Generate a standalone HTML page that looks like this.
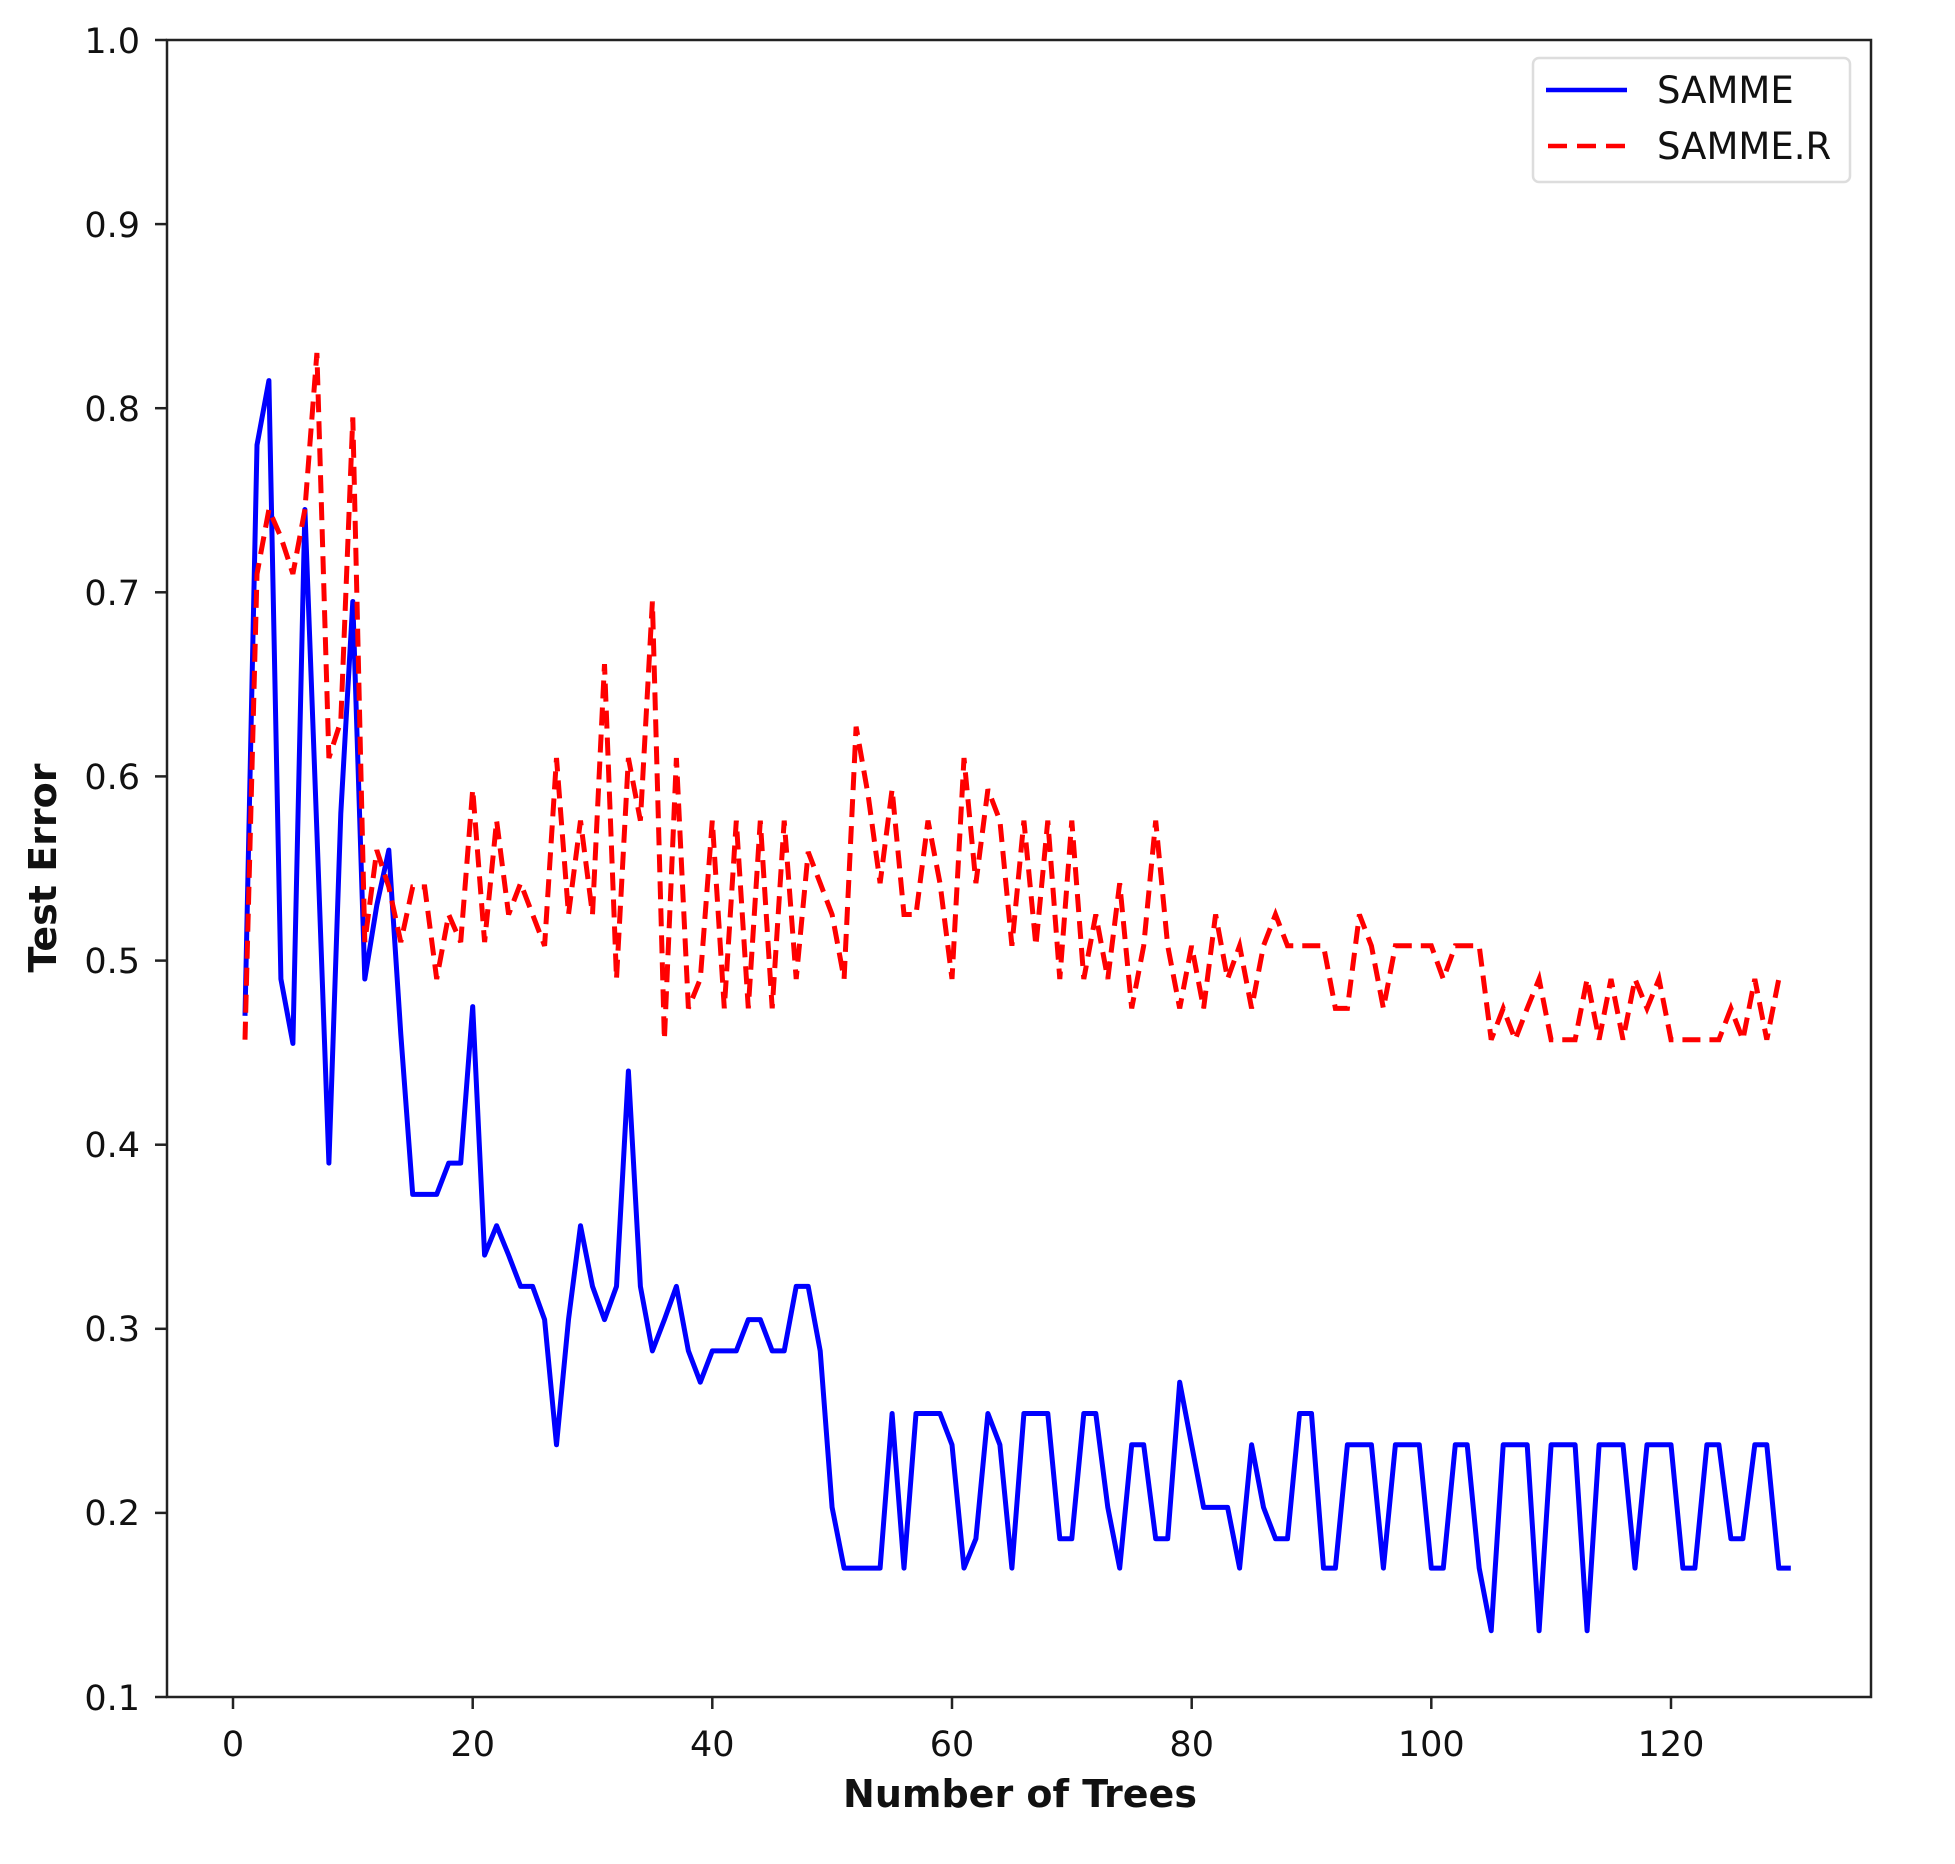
<!DOCTYPE html>
<html><head><meta charset="utf-8"><style>
html,body{margin:0;padding:0;background:#fff;}
svg{display:block;}
text{font-family:"DejaVu Sans","Liberation Sans",sans-serif;fill:#111;}
</style></head><body>
<svg width="1955" height="1864" xmlns="http://www.w3.org/2000/svg">
<rect x="0" y="0" width="1955" height="1864" fill="#fff"/>
<g id="series"></g>
<rect x="167" y="40" width="1704" height="1657" fill="none" stroke="#222" stroke-width="2.5"/>
<g stroke="#222" stroke-width="2.5">
<line x1="167" y1="40" x2="155" y2="40"/><line x1="167" y1="224.1" x2="155" y2="224.1"/><line x1="167" y1="408.2" x2="155" y2="408.2"/><line x1="167" y1="592.3" x2="155" y2="592.3"/><line x1="167" y1="776.4" x2="155" y2="776.4"/><line x1="167" y1="960.6" x2="155" y2="960.6"/><line x1="167" y1="1144.7" x2="155" y2="1144.7"/><line x1="167" y1="1328.8" x2="155" y2="1328.8"/><line x1="167" y1="1512.9" x2="155" y2="1512.9"/><line x1="167" y1="1697" x2="155" y2="1697"/>
<line x1="233" y1="1697" x2="233" y2="1709"/><line x1="472.7" y1="1697" x2="472.7" y2="1709"/><line x1="712.3" y1="1697" x2="712.3" y2="1709"/><line x1="952" y1="1697" x2="952" y2="1709"/><line x1="1191.7" y1="1697" x2="1191.7" y2="1709"/><line x1="1431.3" y1="1697" x2="1431.3" y2="1709"/><line x1="1671" y1="1697" x2="1671" y2="1709"/>
</g>
<g font-size="35" text-anchor="end">
<text x="140" y="53">1.0</text><text x="140" y="237">0.9</text><text x="140" y="421">0.8</text><text x="140" y="605">0.7</text><text x="140" y="789">0.6</text><text x="140" y="973">0.5</text><text x="140" y="1157">0.4</text><text x="140" y="1341">0.3</text><text x="140" y="1525">0.2</text><text x="140" y="1710">0.1</text>
</g>
<g font-size="35" text-anchor="middle">
<text x="233" y="1756">0</text><text x="472.7" y="1756">20</text><text x="712.3" y="1756">40</text><text x="952" y="1756">60</text><text x="1191.7" y="1756">80</text><text x="1431.3" y="1756">100</text><text x="1671" y="1756">120</text>
</g>
<text x="1020" y="1807" font-size="38" font-weight="bold" text-anchor="middle">Number of Trees</text>
<text transform="translate(56,868) rotate(-90)" font-size="38" font-weight="bold" text-anchor="middle">Test Error</text>
<rect x="1533" y="58" width="317" height="124" rx="6" fill="#fff" stroke="#ddd" stroke-width="2.5"/>
<line x1="1546" y1="90" x2="1627" y2="90" stroke="#0000ff" stroke-width="4.5"/>
<line x1="1548" y1="146" x2="1625" y2="146" stroke="#ff0000" stroke-width="4.5" stroke-dasharray="19,10"/>
<text x="1657" y="103" font-size="37">SAMME</text>
<text x="1657" y="159" font-size="37">SAMME.R</text>
</svg>
<script>
var b=[0.47,0.78,0.815,0.49,0.455,0.745,0.57,0.39,0.58,0.695,0.49,0.53,0.56,0.46,0.373,0.373,0.373,0.39,0.39,0.475,0.34,0.356,0.34,0.323,0.323,0.305,0.237,0.305,0.356,0.323,0.305,0.323,0.44,0.323,0.288,0.305,0.323,0.288,0.271,0.288,0.288,0.288,0.305,0.305,0.288,0.288,0.323,0.323,0.288,0.203,0.17,0.17,0.17,0.17,0.254,0.17,0.254,0.254,0.254,0.237,0.17,0.186,0.254,0.237,0.17,0.254,0.254,0.254,0.186,0.186,0.254,0.254,0.203,0.17,0.237,0.237,0.186,0.186,0.271,0.237,0.203,0.203,0.203,0.17,0.237,0.203,0.186,0.186,0.254,0.254,0.17,0.17,0.237,0.237,0.237,0.17,0.237,0.237,0.237,0.17,0.17,0.237,0.237,0.17,0.136,0.237,0.237,0.237,0.136,0.237,0.237,0.237,0.136,0.237,0.237,0.237,0.17,0.237,0.237,0.237,0.17,0.17,0.237,0.237,0.186,0.186,0.237,0.237,0.17,0.17];
var r=[0.457,0.71,0.745,0.73,0.71,0.745,0.83,0.61,0.63,0.795,0.51,0.56,0.54,0.51,0.54,0.54,0.49,0.525,0.51,0.593,0.51,0.576,0.525,0.542,0.525,0.508,0.61,0.525,0.576,0.525,0.661,0.49,0.61,0.576,0.695,0.457,0.61,0.474,0.49,0.576,0.474,0.576,0.474,0.576,0.474,0.576,0.49,0.559,0.542,0.525,0.49,0.627,0.59,0.542,0.593,0.525,0.525,0.576,0.542,0.49,0.61,0.542,0.593,0.576,0.508,0.576,0.508,0.576,0.49,0.576,0.49,0.525,0.49,0.542,0.474,0.508,0.576,0.508,0.474,0.508,0.474,0.525,0.49,0.508,0.474,0.508,0.525,0.508,0.508,0.508,0.508,0.474,0.474,0.525,0.508,0.474,0.508,0.508,0.508,0.508,0.49,0.508,0.508,0.508,0.457,0.474,0.457,0.474,0.49,0.457,0.457,0.457,0.49,0.457,0.49,0.457,0.49,0.474,0.49,0.457,0.457,0.457,0.457,0.457,0.474,0.457,0.49,0.457,0.49];
function pts(a){return a.map(function(v,i){return (233+(i+1)*11.983).toFixed(1)+","+(40+(1-v)*1841.1).toFixed(1);}).join(" ");}
document.getElementById("series").innerHTML='<polyline points="'+pts(b)+'" fill="none" stroke="#0000ff" stroke-width="5" stroke-linejoin="round"/>'+
'<polyline points="'+pts(r)+'" fill="none" stroke="#ff0000" stroke-width="5" stroke-dasharray="18,9"/>';
</script>
</body></html>
